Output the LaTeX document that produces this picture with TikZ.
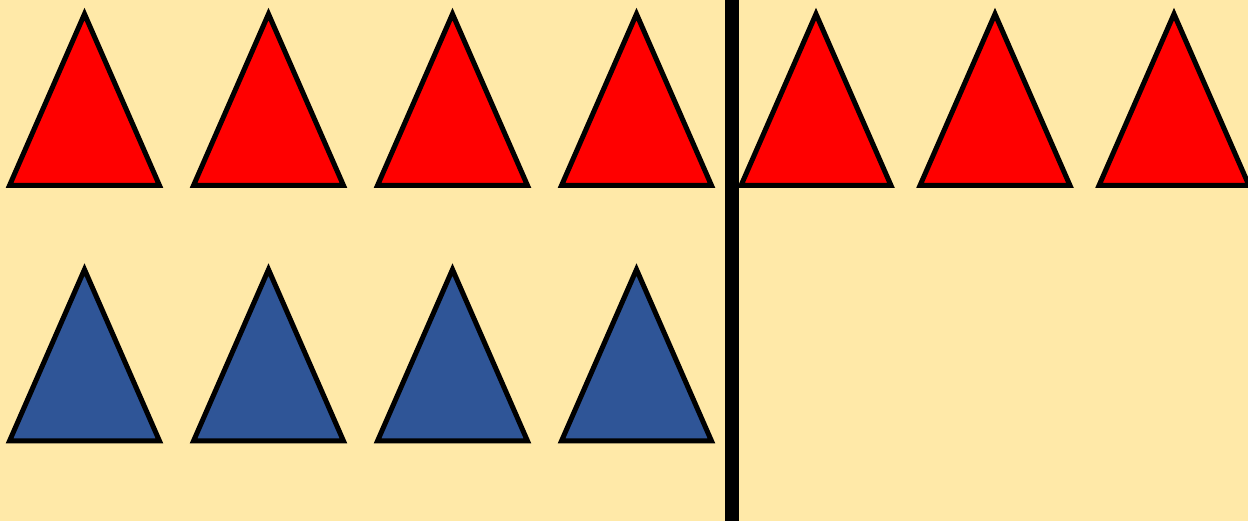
\documentclass[tikz,border=0pt]{standalone}
\definecolor{paleyellow}{RGB}{255,233,168}
\definecolor{darkblue}{RGB}{47,85,151}
\begin{document}
\begin{tikzpicture}[redtri/.style={line width=0.1cm, fill=red}, bluetri/.style={line width=0.1cm, fill=darkblue}]
	\useasboundingbox (0,0) rectangle (24.96,10.42);
	\clip (0,0) rectangle (24.96,10.42);
	\fill [paleyellow] (0,0) rectangle (24.96,10.42);
	% top row
	\draw [redtri] (0.19,6.71) -- (3.19,6.71) -- (1.69,10.14) -- cycle;
	\draw [redtri] (3.87,6.71) -- (6.87,6.71) -- (5.37,10.14) -- cycle;
	\draw [redtri] (7.55,6.71) -- (10.55,6.71) -- (9.05,10.14) -- cycle;
	\draw [redtri] (11.23,6.71) -- (14.23,6.71) -- (12.73,10.14) -- cycle;
	\draw [redtri] (14.82,6.71) -- (17.82,6.71) -- (16.32,10.14) -- cycle;
	\draw [redtri] (18.40,6.71) -- (21.40,6.71) -- (19.90,10.14) -- cycle;
	\draw [redtri] (21.98,6.71) -- (24.98,6.71) -- (23.48,10.14) -- cycle;
	% bottom row
	\draw [bluetri] (0.19,1.60) -- (3.19,1.60) -- (1.69,5.03) -- cycle;
	\draw [bluetri] (3.87,1.60) -- (6.87,1.60) -- (5.37,5.03) -- cycle;
	\draw [bluetri] (7.55,1.60) -- (10.55,1.60) -- (9.05,5.03) -- cycle;
	\draw [bluetri] (11.23,1.60) -- (14.23,1.60) -- (12.73,5.03) -- cycle;
	% divider
	\draw [line width=0.28cm] (14.64,0) -- (14.64,10.42);
\end{tikzpicture}
\end{document}
